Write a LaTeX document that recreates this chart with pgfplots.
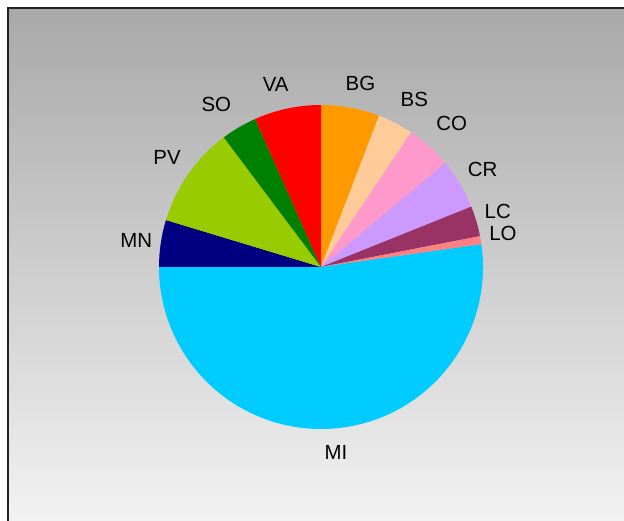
\documentclass[border=0pt]{standalone}
\usepackage{pgfplots}
\usepackage{pgfplotstable}
\pgfplotsset{compat=1.18}
\usepackage{fontspec}
\setmainfont{Liberation Sans}

% slice colours
\definecolor{cBG}{HTML}{FF9900}
\definecolor{cBS}{HTML}{FFCC99}
\definecolor{cCO}{HTML}{FF99CC}
\definecolor{cCR}{HTML}{CC99FF}
\definecolor{cLC}{HTML}{993366}
\definecolor{cLO}{HTML}{FF8080}
\definecolor{cMI}{HTML}{00CCFF}
\definecolor{cMN}{HTML}{000080}
\definecolor{cPV}{HTML}{99CC00}
\definecolor{cSO}{HTML}{008000}
\definecolor{cVA}{HTML}{FF0000}

% share of each province (percent), clockwise from the top,
% with the position of its label
\pgfplotstableread{
label value colour lx ly
BG 5.83 cBG 360.5 437.5
BS 3.56 cBS 414.3 421.8
CO 4.53 cCO 451.7 397.7
CR 5.00 cCR 482.7 351.8
LC 3.03 cLC 497.8 309.2
LO 0.81 cLO 503.0 287.7
MI 52.25 cMI 336.0 69.0
MN 4.67 cMN 136.2 281.0
PV 10.08 cPV 167.0 363.2
SO 3.58 cSO 216.3 416.5
VA 6.66 cVA 275.7 436.5
}\piedata

\begin{document}
\begin{tikzpicture}
\useasboundingbox (0,0) rectangle (624bp,521bp);
\begin{axis}[
  anchor=origin, at={(0,0)},
  x=1bp, y=1bp,
  xmin=0, xmax=624, ymin=0, ymax=521,
  enlargelimits=false,
  hide axis, clip=false,
]
% chart area background
\shade[top color=black!34, bottom color=black!5]
  (axis cs:8,-2) rectangle (axis cs:630,513);
\draw[line width=2bp, black!87] (axis cs:8,-5) -- (axis cs:8,513) -- (axis cs:630,513);

\pgfplotstablegetrowsof{\piedata}
\pgfmathtruncatemacro\lastrow{\pgfplotsretval-1}
\def\cum{0}
\pgfplotsforeachungrouped \i in {0,...,\lastrow}{
  \pgfplotstablegetelem{\i}{value}\of\piedata \let\v\pgfplotsretval
  \pgfplotstablegetelem{\i}{colour}\of\piedata \let\c\pgfplotsretval
  \pgfplotstablegetelem{\i}{label}\of\piedata \let\l\pgfplotsretval
  \pgfplotstablegetelem{\i}{lx}\of\piedata \let\xL\pgfplotsretval
  \pgfplotstablegetelem{\i}{ly}\of\piedata \let\yL\pgfplotsretval
  \pgfmathsetmacro\aS{90-3.6*\cum}
  \pgfmathsetmacro\aE{90-3.6*(\cum+\v)}
  \pgfmathsetmacro\xS{321+162*cos(\aS)}
  \pgfmathsetmacro\yS{254+162*sin(\aS)}
  \edef\temp{%
    \noexpand\fill[\c] (axis cs:321,254) -- (axis cs:\xS,\yS)
      arc[start angle=\aS, end angle=\aE, radius=162bp] -- cycle;
    \noexpand\node[font=\noexpand\fontsize{20.5}{24}\noexpand\selectfont, inner sep=0pt]
      at (axis cs:\xL,\yL) {\l};%
  }
  \temp
  \pgfmathsetmacro\cum{\cum+\v}
}
\end{axis}
\end{tikzpicture}
\end{document}
